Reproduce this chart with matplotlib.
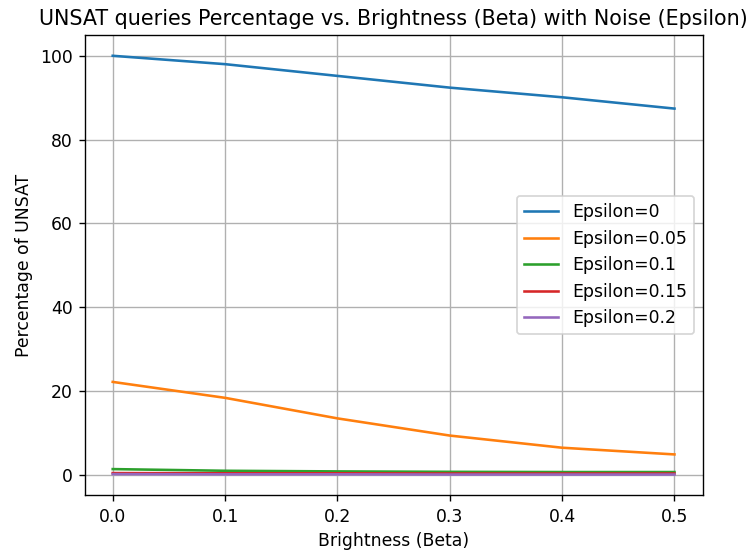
import numpy as np
import matplotlib.pyplot as plt

beta = [0.0, 0.1, 0.2, 0.3, 0.4, 0.5]
eps0 = [100.0, 98.0, 95.2, 92.4, 90.1, 87.4]
eps005 = [22.2, 18.4, 13.5, 9.4, 6.5, 4.9]
eps01 = [1.4, 1.0, 0.85, 0.75, 0.7, 0.7]
eps015 = [0.45, 0.4, 0.4, 0.35, 0.35, 0.35]
eps02 = [0.2, 0.15, 0.15, 0.1, 0.1, 0.1]

series = [(eps0, 'Epsilon=0'), (eps005, 'Epsilon=0.05'), (eps01, 'Epsilon=0.1'),
          (eps015, 'Epsilon=0.15'), (eps02, 'Epsilon=0.2')]

fig = plt.figure(figsize=(749 / 124, 553 / 124), dpi=124)
ax = fig.add_subplot(111)
fig.subplots_adjust(left=0.113, right=0.938, top=0.937, bottom=0.104)

for vals, lab in series:
    ax.plot(beta, vals, label=lab)

ax.set_title('UNSAT queries Percentage vs. Brightness (Beta) with Noise (Epsilon)')
ax.set_xlabel('Brightness (Beta)')
ax.set_ylabel('Percentage of UNSAT')
ax.grid(True)
ax.legend(loc='center right')

fig.savefig('out.png', dpi=124)
